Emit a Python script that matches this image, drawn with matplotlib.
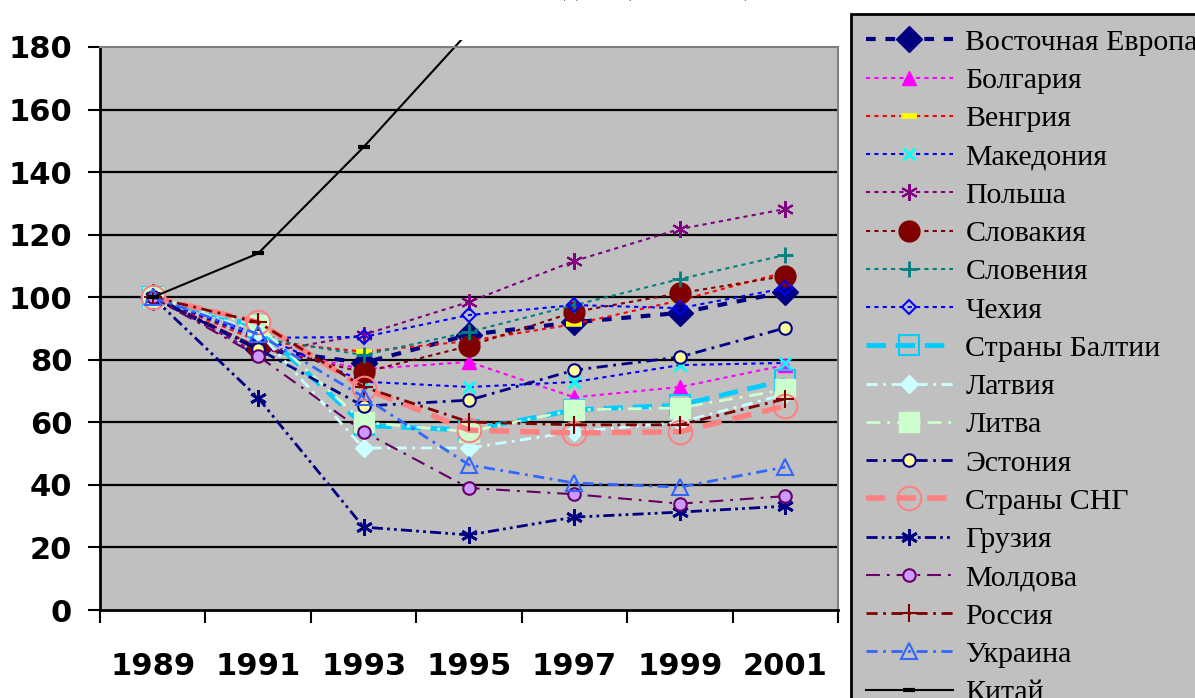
import numpy as np
import matplotlib.pyplot as plt
from matplotlib.transforms import Bbox, TransformedBbox

plt.rcParams['lines.scale_dashes'] = False

years = ["1989", "1991", "1993", "1995", "1997", "1999", "2001"]

vost_evropa = [100, 83.5, 79, 88, 92, 95, 101.7]
bolgariya = [100, 84, 77, 79.3, 68, 71.3, 78.3]
vengriya = [100, 86, 82.6, 86, 91.4, 99, 108]
makedoniya = [100, 88, 73, 71.3, 72.9, 78.3, 79]
polsha = [100, 82, 88, 98.5, 111.6, 121.8, 128.2]
slovakiya = [100, 84, 76, 84.4, 95.3, 101.3, 106.8]
sloveniya = [100, 87, 81.5, 88.9, 97.5, 105.8, 113.5]
chehiya = [100, 87, 87.3, 94.3, 97.5, 96.5, 102.9]
baltiya = [100, 90.5, 59, 57.5, 64, 65.5, 73.5]
latviya = [100, 89, 51.8, 51.8, 57, 60, 69]
litva = [100, 91, 60, 57, 64, 64.6, 70.5]
estoniya = [100, 83.4, 65.2, 67.1, 76.7, 80.9, 90.2]
sng = [100, 92, 71, 57.5, 56.6, 57, 65.2]
gruziya = [100, 67.8, 26.5, 24, 29.7, 31.3, 33.2]
moldova = [100, 81.2, 57, 39, 37, 34, 36.4]
rossiya = [100, 92, 71.3, 60.1, 59.2, 59.2, 67.5]
ukraina = [100, 88.2, 68.1, 46.4, 40.6, 39.3, 45.7]
kitai = [100, 114, 148, 185, 224, 258, 302]

dot = (0, (3, 3))
dash_dot = (0, (8, 4, 2, 4))
dash_dot_dot = (0, (8, 3, 2, 3, 2, 3))
long_dash_dot = (0, (10, 5, 2, 5))

# (название, данные, цвет линии, стиль, толщина, маркер, размер, заливка, контур, mew)
serii = [
    ["Восточная Европа", vost_evropa, "#000080", (0, (7, 7)), 3, "D", 13, "#000080", "#000080", 1],
    ["Болгария", bolgariya, "#FF00FF", dot, 1.5, "^", 10, "#FF00FF", "#FF00FF", 1],
    ["Венгрия", vengriya, "#FF0000", dot, 1.5, "_", 11, "#FFFF00", "#FFFF00", 4],
    ["Македония", makedoniya, "#0000FF", dot, 1.5, "x", 9, "#00FFFF", "#00FFFF", 2],
    ["Польша", polsha, "#800080", dot, 1.5, (6, 2, 0), 12, "#800080", "#800080", 1.5],
    ["Словакия", slovakiya, "#800000", dot, 1.5, "o", 15, "#800000", "#800000", 1],
    ["Словения", sloveniya, "#008080", dot, 1.5, "+", 12, "#008080", "#008080", 2],
    ["Чехия", chehiya, "#0000FF", dot, 1.5, "D", 7, "none", "#0000FF", 1.5],
    ["Страны Балтии", baltiya, "#00CCFF", (0, (14, 7)), 3.5, "s", 15, "none", "#00CCFF", 1.5],
    ["Латвия", latviya, "#CCFFFF", dash_dot, 2, "D", 9, "#CCFFFF", "#CCFFFF", 1],
    ["Литва", litva, "#CCFFCC", long_dash_dot, 2, "s", 15, "#CCFFCC", "#CCFFCC", 1],
    ["Эстония", estoniya, "#000080", dash_dot, 2, "o", 9, "#FFFF99", "#000080", 1.5],
    ["Страны СНГ", sng, "#FF8080", (0, (14, 8)), 4, "o", 17, "none", "#FF8080", 1.5],
    ["Грузия", gruziya, "#000080", dash_dot_dot, 2, (6, 2, 0), 12, "#000080", "#000080", 2],
    ["Молдова", moldova, "#660066", long_dash_dot, 1.5, "o", 9, "#CC99FF", "#660066", 1.5],
    ["Россия", rossiya, "#800000", dash_dot, 2, "+", 13, "#800000", "#800000", 1.5],
    ["Украина", ukraina, "#3366FF", dash_dot, 2, "^", 11, "none", "#3366FF", 1.5],
    ["Китай", kitai, "#000000", "-", 1.5, "_", 8, "#000000", "#000000", 3],
]

fig = plt.figure(figsize=(11.95, 6.98), dpi=100)
ax = fig.add_axes([100 / 1195, 88 / 698, 738 / 1195, 563 / 698])
ax.set_facecolor("#C0C0C0")

x = np.arange(len(years))
linii = []
for nazv, data, col, ls, lw, mk, ms, mfc, mec, mew in serii:
    ln, = ax.plot(x, data, color=col, linestyle=ls, linewidth=lw, marker=mk,
                  markersize=ms, markerfacecolor=mfc, markeredgecolor=mec,
                  markeredgewidth=mew, label=nazv)
    linii.append(ln)

# Китай чуть выходит за рамку, как в оригинале
linii[-1].set_clip_box(TransformedBbox(Bbox([[0, 0], [1, 1.013]]), ax.transAxes))

ax.set_xlim(-0.5, 6.5)
ax.set_ylim(0, 180)
ax.set_yticks(np.arange(0, 181, 20))
for yv in range(20, 180, 20):
    ax.axhline(yv, color="black", linewidth=1.6, zorder=0.5)

ax.set_xticks(x)
ax.set_xticklabels(years)
ax.set_xticks(np.arange(-0.5, 7, 1), minor=True)
ax.tick_params(axis="x", which="major", length=0, pad=30)
ax.tick_params(axis="x", which="minor", length=9, width=1.5, direction="out")
ax.tick_params(axis="y", length=9, width=1.5, direction="out", pad=11)

for lab in ax.get_xticklabels() + ax.get_yticklabels():
    lab.set_fontfamily("DejaVu Sans")
    lab.set_fontweight("bold")
    lab.set_fontsize(22)

ax.spines["left"].set_linewidth(2)
ax.spines["bottom"].set_linewidth(2)
ax.spines["top"].set_color("#808080")
ax.spines["right"].set_color("#808080")
ax.spines["top"].set_linewidth(1.5)
ax.spines["right"].set_linewidth(1.5)

# заголовок в оригинале почти целиком обрезан верхним краем
fig.text(340 / 1195, 1 + 5 / 698, "Реальный ВВП, индекс (1989=100)", ha="left", va="baseline",
         fontsize=20, family="Liberation Serif")

leg = fig.legend(handles=linii, loc="upper left", bbox_to_anchor=(851 / 1195, 1 - 14 / 698),
                 prop={"family": "Liberation Serif", "size": 21.5}, frameon=True,
                 fancybox=False, framealpha=1, borderpad=0.5, handlelength=2.9,
                 handletextpad=0.43, labelspacing=0.38, borderaxespad=0)
leg.get_frame().set_facecolor("#C0C0C0")
leg.get_frame().set_edgecolor("black")
leg.get_frame().set_linewidth(2)

fig.savefig("out.png", dpi=100)
